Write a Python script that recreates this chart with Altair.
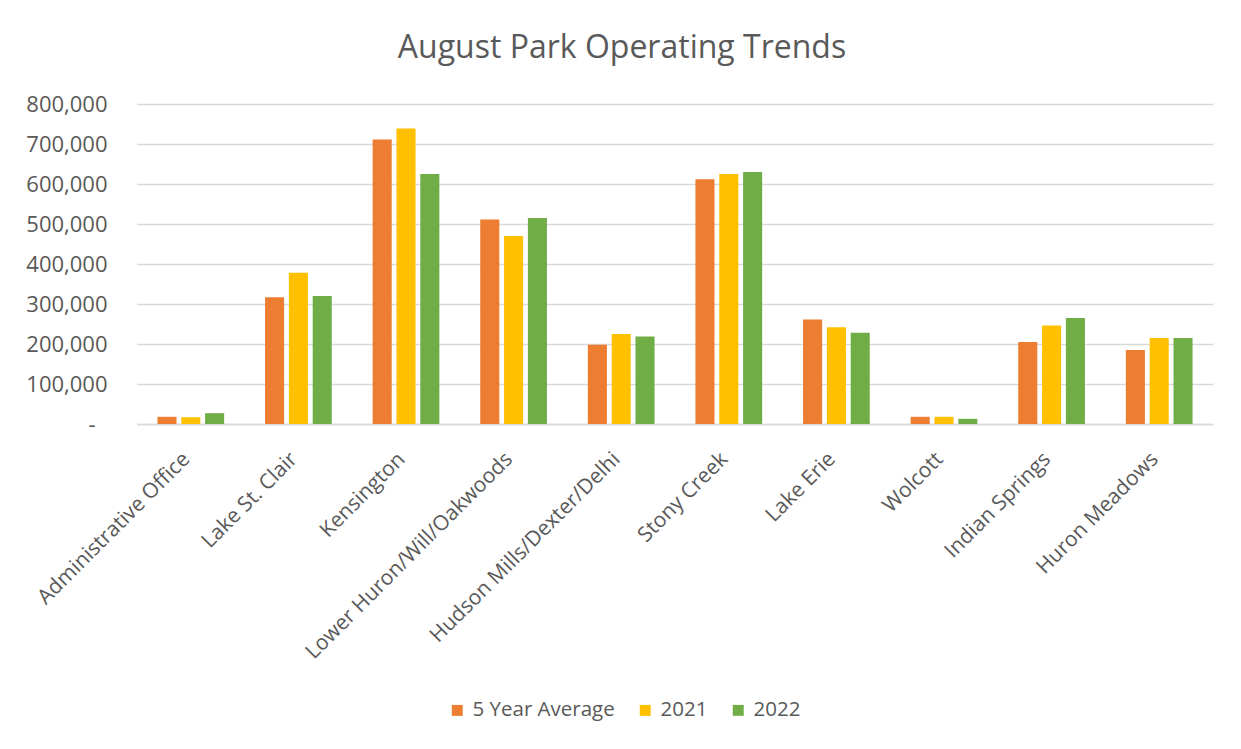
import altair as alt
import pandas as pd

parks = ["Administrative Office", "Lake St. Clair", "Kensington", "Lower Huron/Will/Oakwoods",
         "Hudson Mills/Dexter/Delhi", "Stony Creek", "Lake Erie", "Wolcott", "Indian Springs",
         "Huron Meadows"]
series = ["5 Year Average", "2021", "2022"]
avg5 = [18000, 317000, 711000, 511000, 198000, 612000, 261000, 18000, 205000, 185000]
y2021 = [17000, 378000, 739000, 470000, 225000, 625000, 242000, 18000, 246000, 215000]
y2022 = [27000, 320000, 625000, 515000, 219000, 630000, 228000, 13000, 265000, 215000]
colors = ["#ED7D31", "#FFC000", "#70AD47"]
y_ticks = [0, 100000, 200000, 300000, 400000, 500000, 600000, 700000, 800000]

rows = []
for s, vals in zip(series, [avg5, y2021, y2022]):
    for p, v in zip(parks, vals):
        rows.append({"Park": p, "Series": s, "Value": v})
df = pd.DataFrame(rows)

font = "Open Sans"
gray = "#595959"

chart = alt.Chart(df).mark_bar().encode(
    x=alt.X("Park:N", sort=parks, title=None,
            scale=alt.Scale(paddingInner=0.38, paddingOuter=0.19),
            axis=alt.Axis(labelAngle=-45, labelFontSize=21, labelColor=gray, labelFont=font,
                          ticks=False, domainColor="#D9D9D9", domainWidth=1.5, labelPadding=24,
                          labelOffset=-12, labelLimit=400)),
    xOffset=alt.XOffset("Series:N", sort=series, scale=alt.Scale(paddingInner=0.2)),
    y=alt.Y("Value:Q", title=None,
            scale=alt.Scale(domain=[0, 800000], nice=False),
            axis=alt.Axis(values=y_ticks,
                          labelExpr="datum.value == 0 ? '-' : format(datum.value, ',')",
                          labelFontSize=22, labelColor=gray, labelFont=font, ticks=False,
                          domain=False, gridColor="#D9D9D9", gridWidth=1.5,
                          labelPadding={"condition": {"test": "datum.value == 0", "value": 42},
                                        "value": 30})),
    color=alt.Color("Series:N", sort=series, scale=alt.Scale(domain=series, range=colors),
                    legend=alt.Legend(title=None, orient="none", direction="horizontal",
                                      legendX=310, legendY=596, symbolType="square",
                                      symbolSize=120, symbolStrokeWidth=0, labelFontSize=20.5,
                                      labelColor=gray, labelFont=font, columnPadding=20,
                                      labelOffset=5)),
).properties(
    width=1076, height=320,
    title=alt.TitleParams("August Park Operating Trends", fontSize=32, font=font, color=gray,
                          fontWeight="normal", anchor="middle", frame="group", dx=-53, offset=28),
    autosize=alt.AutoSizeParams(type="none"),
    padding={"left": 129, "top": 96, "right": 12, "bottom": 310},
).configure_view(stroke=None)

chart.save("out.html", embed_options={"renderer": "svg", "actions": False})
